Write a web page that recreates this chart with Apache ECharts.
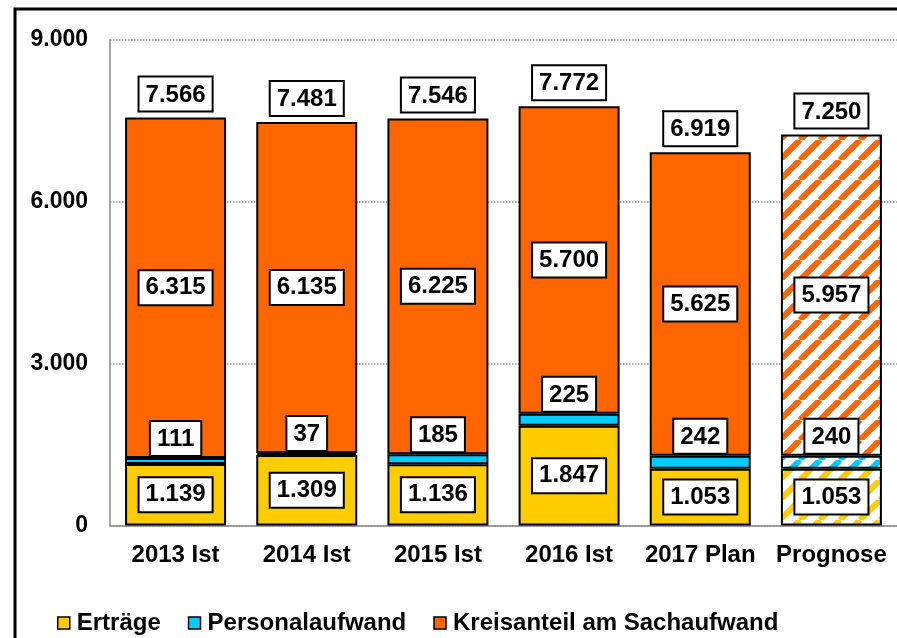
<!DOCTYPE html>
<html><head><meta charset="utf-8">
<script src="https://cdn.jsdelivr.net/npm/echarts@6/dist/echarts.min.js"></script>
<style>html,body{margin:0;padding:0;background:#fff}#c{width:897px;height:638px}</style>
</head><body><div id="c"></div>
<script>
const categories = ['2013 Ist','2014 Ist','2015 Ist','2016 Ist','2017 Plan','Prognose'];
const ertraege = [1139, 1309, 1136, 1847, 1053, 1053];
const personal = [111, 37, 185, 225, 242, 240];
const kreisanteil = [6315, 6135, 6225, 5700, 5625, 5957];
const totals = [7566, 7481, 7546, 7772, 6919, 7250];
const yTicks = {min: 0, max: 9000, interval: 3000};
const forecastIndex = 5;

const ORANGE = '#FF6600', YELLOW = '#FFCC00', CYAN = '#00CCFF';
const FONT = 'Liberation Sans, Arial, sans-serif';
const fmt = v => String(Math.round(v)).replace(/\B(?=(\d{3})+(?!\d))/g, '.');

function hatch(color) {
  const s = 20;
  const c = document.createElement('canvas');
  c.width = s; c.height = s;
  const g = c.getContext('2d');
  g.fillStyle = '#fff'; g.fillRect(0, 0, s, s);
  g.strokeStyle = color; g.lineWidth = 6;
  for (const o of [-s, 0, s]) {
    g.beginPath(); g.moveTo(o, s); g.lineTo(o + s, 0); g.stroke();
  }
  return {image: c, repeat: 'repeat'};
}

const boxLabel = {
  show: true,
  fontFamily: FONT, fontWeight: 'bold', fontSize: 24, lineHeight: 27, color: '#000',
  backgroundColor: '#fff', borderColor: '#000', borderWidth: 2,
  padding: [4, 6, 2, 6],
  formatter: p => fmt(p.value)
};

function mk(name, arr, color, labelPos, dist) {
  return {
    name, type: 'bar', stack: 'a', barCategoryGap: '23%',
    data: arr.map((v, i) => ({
      value: v,
      itemStyle: i === forecastIndex ? {color: hatch(color)} : {}
    })),
    itemStyle: {color, borderColor: '#000', borderWidth: 2},
    label: Object.assign({}, boxLabel, {position: labelPos, distance: dist}),
    emphasis: {disabled: true}
  };
}

const chart = echarts.init(document.getElementById('c'), null, {renderer: 'canvas'});
chart.setOption({
  animation: false,
  backgroundColor: '#fff',
  graphic: [{
    type: 'rect', shape: {x: 15, y: 9, width: 1000, height: 1000},
    style: {fill: 'none', stroke: '#000', lineWidth: 3}, z: 100
  }],
  grid: {left: 110, right: -8, top: 40, bottom: 112.5, containLabel: false},
  legend: {
    data: ['Erträge', 'Personalaufwand', 'Kreisanteil am Sachaufwand'],
    left: 52, top: 606, icon: 'rect', itemWidth: 12, itemHeight: 12, itemGap: 27,
    textStyle: {fontFamily: FONT, fontWeight: 'bold', fontSize: 24, color: '#000', padding: [0, 0, 0, 2]},
    itemStyle: {borderColor: '#000', borderWidth: 1.5}
  },
  xAxis: {
    type: 'category', data: categories,
    axisLine: {show: true, lineStyle: {color: '#888', width: 1.5}},
    axisTick: {show: false},
    axisLabel: {interval: 0, fontFamily: FONT, fontWeight: 'bold', fontSize: 24, color: '#000', margin: 18}
  },
  yAxis: {
    type: 'value', min: yTicks.min, max: yTicks.max, interval: yTicks.interval,
    axisLine: {show: true, lineStyle: {color: '#888', width: 1.5}},
    axisTick: {show: false},
    splitLine: {show: true, lineStyle: {color: '#999', type: 'dotted', width: 1.5}},
    axisLabel: {fontFamily: FONT, fontWeight: 'bold', fontSize: 23, color: '#000', margin: 22, formatter: v => fmt(v)}
  },
  series: [
    mk('Erträge', ertraege, YELLOW, 'inside', 0),
    mk('Personalaufwand', personal, CYAN, 'top', 3),
    mk('Kreisanteil am Sachaufwand', kreisanteil, ORANGE, 'inside', 0),
    {
      name: 'Summe', type: 'bar', stack: 'a',
      data: totals.map(() => 0),
      itemStyle: {color: 'rgba(0,0,0,0)', borderWidth: 0},
      label: Object.assign({}, boxLabel, {position: 'top', distance: 7, formatter: p => fmt(totals[p.dataIndex])}),
      emphasis: {disabled: true}
    }
  ]
});
</script></body></html>
